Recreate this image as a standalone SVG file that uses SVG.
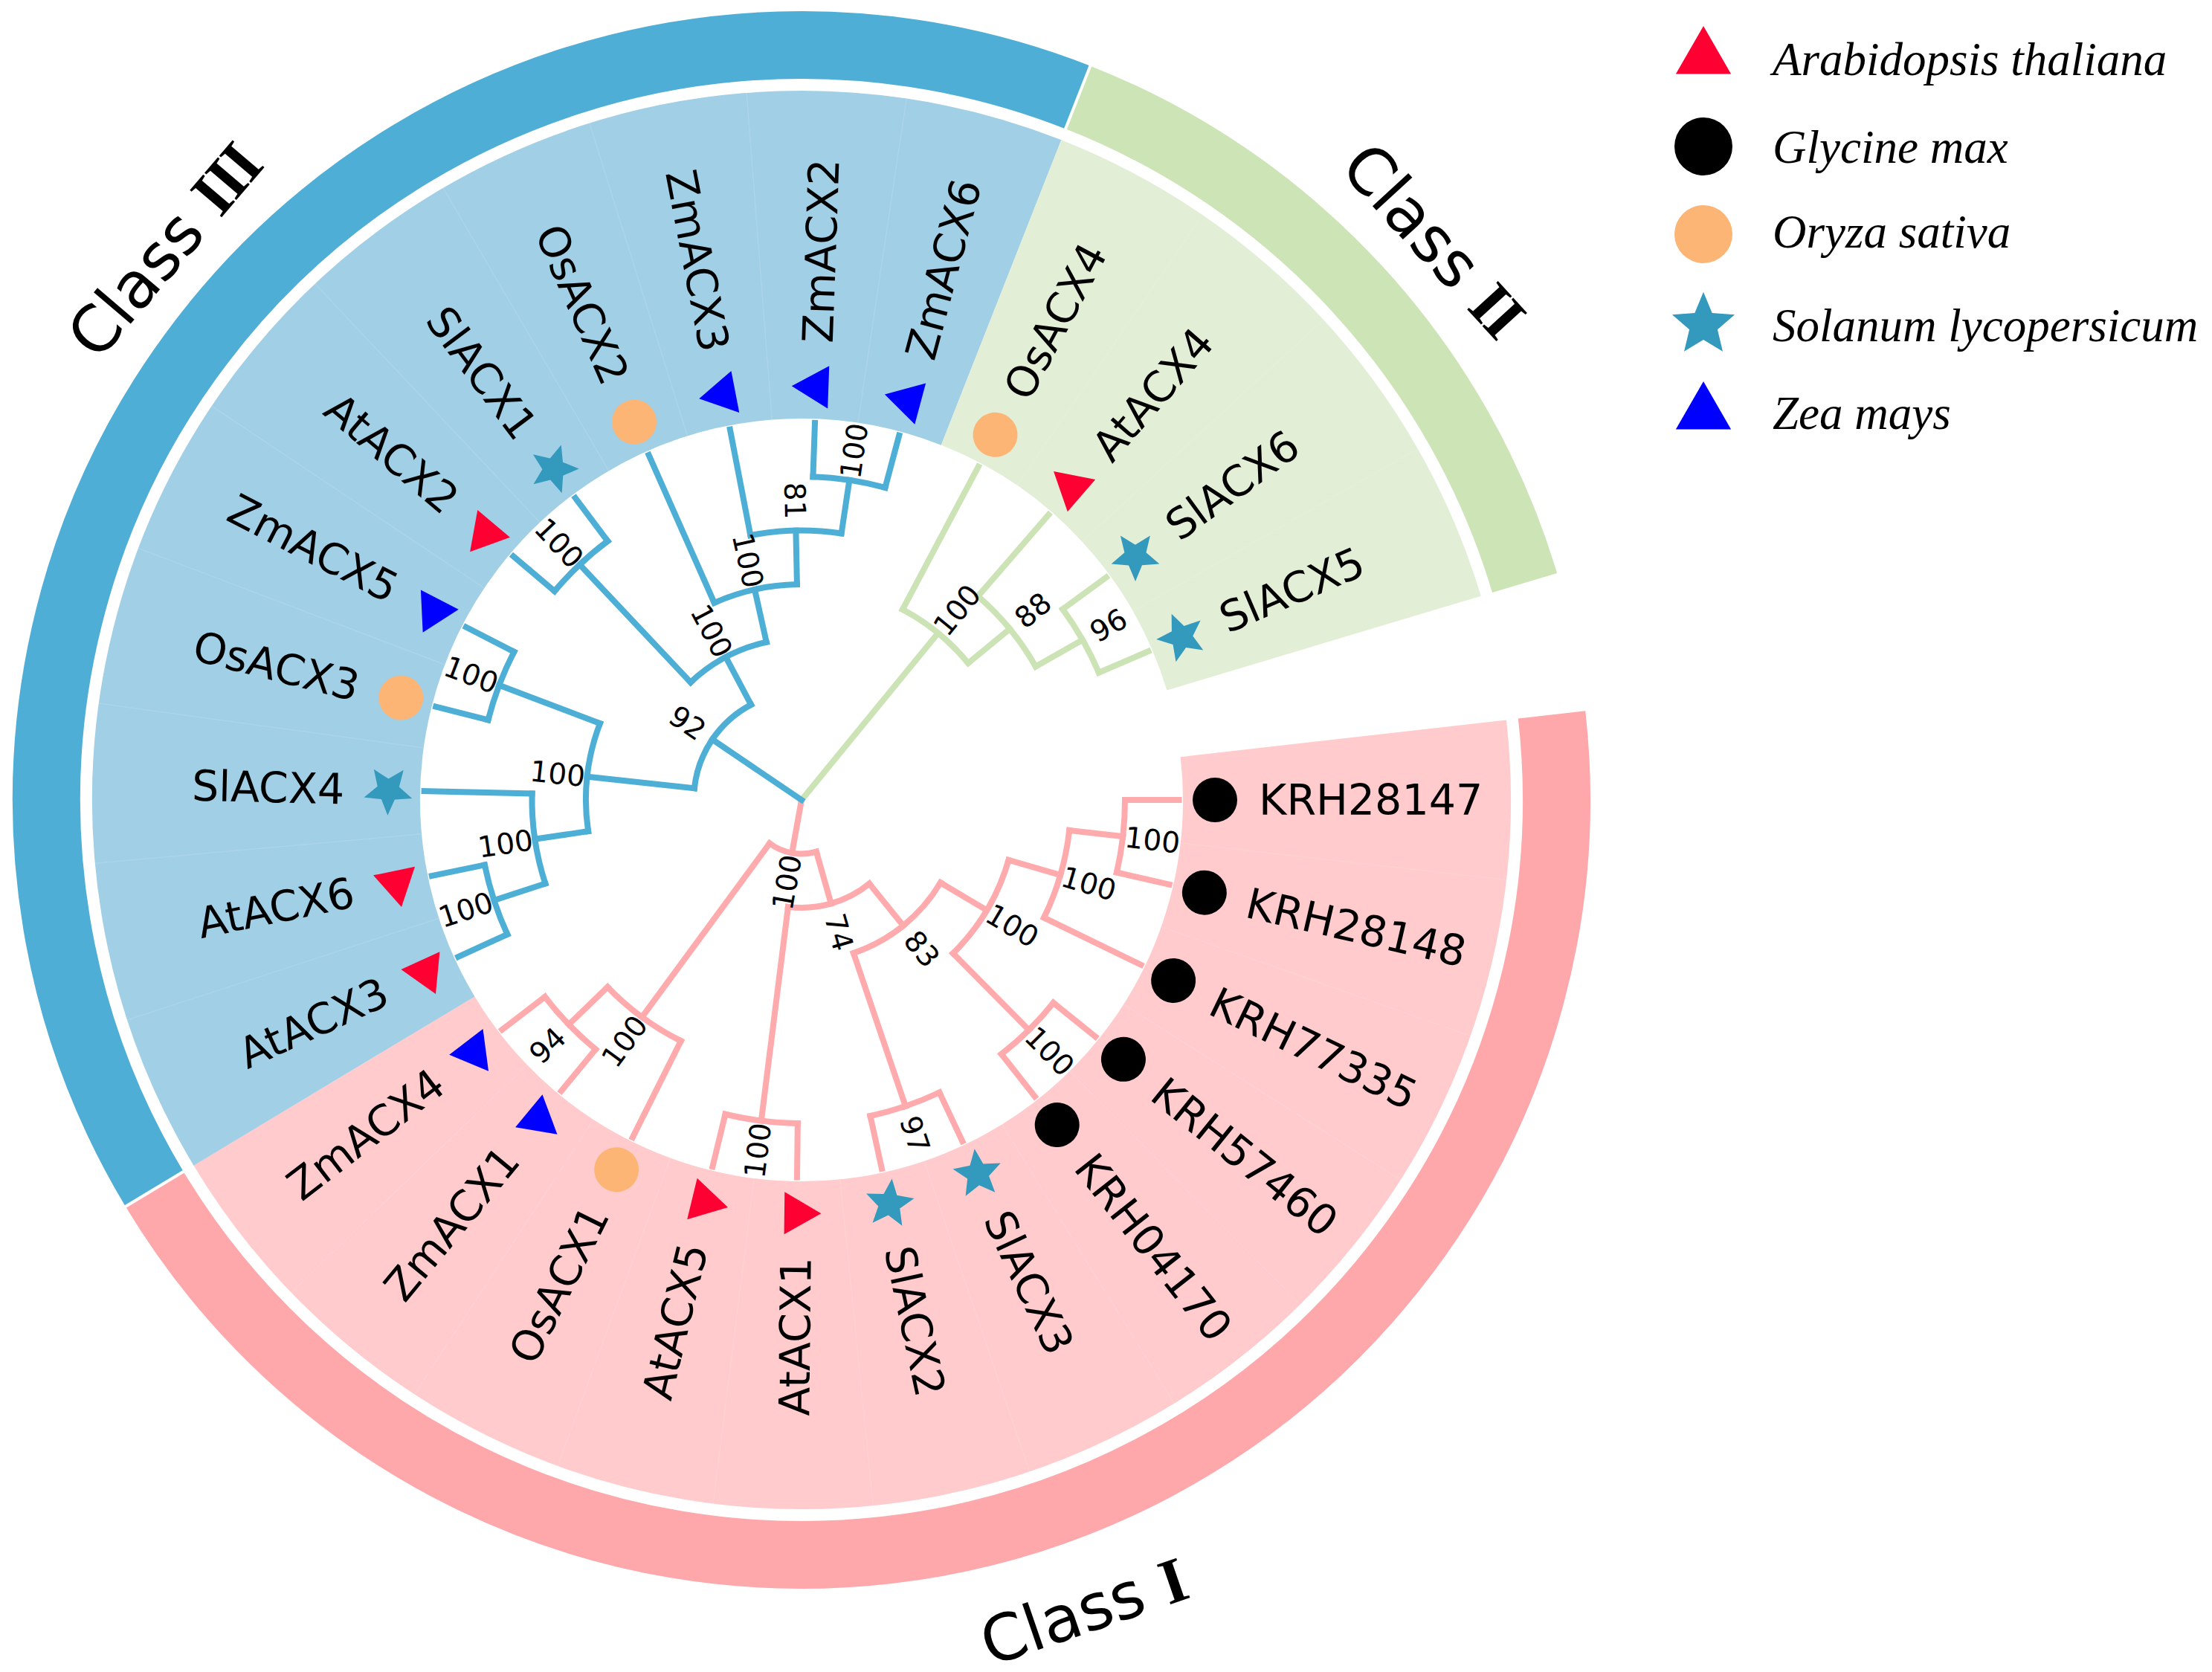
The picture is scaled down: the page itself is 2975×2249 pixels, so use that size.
<svg xmlns="http://www.w3.org/2000/svg" width="2975" height="2249" viewBox="0 0 2975 2249">
<style>
.band{fill:none;stroke-linecap:butt}
.e path,.e circle{fill:none;stroke-width:8;stroke-linecap:square}
.c1 path,.c1 circle{stroke:#FFAAAC}
.c2 path,.c2 circle{stroke:#CCE3B5}
.c3 path,.c3 circle{stroke:#4DAED6}
.lab{font-family:"DejaVu Sans","Liberation Sans",sans-serif;font-size:57px;fill:#000}
.bs{font-family:"DejaVu Sans","Liberation Sans",sans-serif;font-size:39px;fill:#000;text-anchor:middle}
.leg{font-family:"Liberation Serif","Times New Roman",serif;font-style:italic;font-size:63px;fill:#000}
.cls{font-family:"DejaVu Sans","Liberation Sans",sans-serif;font-size:86px;fill:#000}
.rn{font-family:"Liberation Serif","Times New Roman",serif;font-weight:bold;letter-spacing:-3px}
.seam{stroke:#fff;stroke-opacity:.13;stroke-width:1.5;fill:none}
.at{fill:#FF0033}.zm{fill:#0000FF}.gm{fill:#000}.os{fill:#FDB576}.sl{fill:#3399BD}
</style>
<defs>
<path id="tri" d="M0,-33 L28.58,16.5 L-28.58,16.5 Z"/>
<circle id="dot" cx="0" cy="0" r="30"/>
<path id="star" d="M0,-34 L8.99,-12.38 L32.34,-10.51 L14.55,4.73 L19.99,27.51 L0,15.3 L-19.99,27.51 L-14.55,4.73 L-32.34,-10.51 L-8.99,-12.38 Z"/>
</defs>

<g id="bands">
<circle class="band" cx="1078" cy="1076" r="733.5" stroke="#FFCBCC" stroke-width="441" stroke-dasharray="1990.12 9000" transform="rotate(-6.477 1078 1076)"/>
<circle class="band" cx="1078" cy="1076" r="733.5" stroke="#A0CFE6" stroke-width="441" stroke-dasharray="1824.21 9000" transform="rotate(148.977 1078 1076)"/>
<circle class="band" cx="1078" cy="1076" r="733.5" stroke="#E2EED6" stroke-width="441" stroke-dasharray="663.27 9000" transform="rotate(291.471 1078 1076)"/>
<circle class="band" cx="1078" cy="1076" r="1015.5" stroke="#FFA8AB" stroke-width="91" stroke-dasharray="2755.23 9000" transform="rotate(-6.477 1078 1076)"/>
<circle class="band" cx="1078" cy="1076" r="1015.5" stroke="#4FAED6" stroke-width="91" stroke-dasharray="2525.55 9000" transform="rotate(148.977 1078 1076)"/>
<circle class="band" cx="1078" cy="1076" r="1015.5" stroke="#CDE4B7" stroke-width="91" stroke-dasharray="918.27 9000" transform="rotate(291.471 1078 1076)"/>
<path d="M2040 1076H2146" stroke="#fff" stroke-width="4" transform="rotate(148.977 1078 1076)"/>
<path d="M2040 1076H2146" stroke="#fff" stroke-width="4" transform="rotate(291.471 1078 1076)"/>
<g class="seams">
<path class="seam" d="M1591 1076H2032" transform="rotate(6.477 1078 1076)"/>
<path class="seam" d="M1591 1076H2032" transform="rotate(19.431 1078 1076)"/>
<path class="seam" d="M1591 1076H2032" transform="rotate(32.385 1078 1076)"/>
<path class="seam" d="M1591 1076H2032" transform="rotate(45.339 1078 1076)"/>
<path class="seam" d="M1591 1076H2032" transform="rotate(58.293 1078 1076)"/>
<path class="seam" d="M1591 1076H2032" transform="rotate(71.247 1078 1076)"/>
<path class="seam" d="M1591 1076H2032" transform="rotate(84.201 1078 1076)"/>
<path class="seam" d="M1591 1076H2032" transform="rotate(97.155 1078 1076)"/>
<path class="seam" d="M1591 1076H2032" transform="rotate(110.109 1078 1076)"/>
<path class="seam" d="M1591 1076H2032" transform="rotate(123.063 1078 1076)"/>
<path class="seam" d="M1591 1076H2032" transform="rotate(136.017 1078 1076)"/>
<path class="seam" d="M1591 1076H2032" transform="rotate(161.925 1078 1076)"/>
<path class="seam" d="M1591 1076H2032" transform="rotate(174.879 1078 1076)"/>
<path class="seam" d="M1591 1076H2032" transform="rotate(187.833 1078 1076)"/>
<path class="seam" d="M1591 1076H2032" transform="rotate(200.787 1078 1076)"/>
<path class="seam" d="M1591 1076H2032" transform="rotate(213.741 1078 1076)"/>
<path class="seam" d="M1591 1076H2032" transform="rotate(226.695 1078 1076)"/>
<path class="seam" d="M1591 1076H2032" transform="rotate(239.649 1078 1076)"/>
<path class="seam" d="M1591 1076H2032" transform="rotate(252.603 1078 1076)"/>
<path class="seam" d="M1591 1076H2032" transform="rotate(265.557 1078 1076)"/>
<path class="seam" d="M1591 1076H2032" transform="rotate(278.511 1078 1076)"/>
<path class="seam" d="M1591 1076H2032" transform="rotate(304.419 1078 1076)"/>
<path class="seam" d="M1591 1076H2032" transform="rotate(317.373 1078 1076)"/>
<path class="seam" d="M1591 1076H2032" transform="rotate(330.327 1078 1076)"/>
</g>
</g>

<g id="connectors" class="e">
<g class="c1">
<path d="M1078 1076H1150.5" transform="rotate(100.19 1078 1076)"/>
<path d="M1150.5 1076H1440.5" transform="rotate(126.3 1078 1076)"/>
<path d="M1440.5 1076H1513" transform="rotate(136.02 1078 1076)"/>
<path d="M1513 1076H1585.5" transform="rotate(142.494 1078 1076)"/>
<path d="M1513 1076H1585.5" transform="rotate(129.54 1078 1076)"/>
<path d="M1440.5 1076H1585.5" transform="rotate(116.586 1078 1076)"/>
<path d="M1150.5 1076H1223" transform="rotate(74.081 1078 1076)"/>
<path d="M1223 1076H1513" transform="rotate(97.155 1078 1076)"/>
<path d="M1513 1076H1585.5" transform="rotate(90.678 1078 1076)"/>
<path d="M1513 1076H1585.5" transform="rotate(103.632 1078 1076)"/>
<path d="M1223 1076H1295.5" transform="rotate(51.006 1078 1076)"/>
<path d="M1295.5 1076H1513" transform="rotate(71.247 1078 1076)"/>
<path d="M1513 1076H1585.5" transform="rotate(64.77 1078 1076)"/>
<path d="M1513 1076H1585.5" transform="rotate(77.724 1078 1076)"/>
<path d="M1295.5 1076H1368" transform="rotate(30.766 1078 1076)"/>
<path d="M1368 1076H1513" transform="rotate(45.339 1078 1076)"/>
<path d="M1513 1076H1585.5" transform="rotate(38.862 1078 1076)"/>
<path d="M1513 1076H1585.5" transform="rotate(51.816 1078 1076)"/>
<path d="M1368 1076H1440.5" transform="rotate(16.193 1078 1076)"/>
<path d="M1440.5 1076H1513" transform="rotate(6.477 1078 1076)"/>
<path d="M1513 1076H1585.5"/>
<path d="M1513 1076H1585.5" transform="rotate(12.954 1078 1076)"/>
<path d="M1440.5 1076H1585.5" transform="rotate(25.908 1078 1076)"/>
<circle cx="1078" cy="1076" r="72.5" stroke-dasharray="66.08 9999" transform="rotate(74.081 1078 1076)"/>
<circle cx="1078" cy="1076" r="362.5" stroke-dasharray="122.96 9999" transform="rotate(116.586 1078 1076)"/>
<circle cx="1078" cy="1076" r="435" stroke-dasharray="98.35 9999" transform="rotate(129.54 1078 1076)"/>
<circle cx="1078" cy="1076" r="145" stroke-dasharray="116.79 9999" transform="rotate(51.006 1078 1076)"/>
<circle cx="1078" cy="1076" r="435" stroke-dasharray="98.35 9999" transform="rotate(90.678 1078 1076)"/>
<circle cx="1078" cy="1076" r="217.5" stroke-dasharray="153.67 9999" transform="rotate(30.766 1078 1076)"/>
<circle cx="1078" cy="1076" r="435" stroke-dasharray="98.35 9999" transform="rotate(64.77 1078 1076)"/>
<circle cx="1078" cy="1076" r="290" stroke-dasharray="147.52 9999" transform="rotate(16.193 1078 1076)"/>
<circle cx="1078" cy="1076" r="435" stroke-dasharray="98.35 9999" transform="rotate(38.862 1078 1076)"/>
<circle cx="1078" cy="1076" r="362.5" stroke-dasharray="122.94 9999" transform="rotate(6.477 1078 1076)"/>
<circle cx="1078" cy="1076" r="435" stroke-dasharray="98.35 9999"/>
</g>
<g class="c2">
<path d="M1078 1076H1368" transform="rotate(309.28 1078 1076)"/>
<path d="M1368 1076H1585.5" transform="rotate(297.942 1078 1076)"/>
<path d="M1368 1076H1440.5" transform="rotate(320.61 1078 1076)"/>
<path d="M1440.5 1076H1585.5" transform="rotate(310.896 1078 1076)"/>
<path d="M1440.5 1076H1513" transform="rotate(330.33 1078 1076)"/>
<path d="M1513 1076H1585.5" transform="rotate(323.85 1078 1076)"/>
<path d="M1513 1076H1585.5" transform="rotate(336.804 1078 1076)"/>
<circle cx="1078" cy="1076" r="290" stroke-dasharray="114.73 9999" transform="rotate(297.942 1078 1076)"/>
<circle cx="1078" cy="1076" r="362.5" stroke-dasharray="122.96 9999" transform="rotate(310.896 1078 1076)"/>
<circle cx="1078" cy="1076" r="435" stroke-dasharray="98.35 9999" transform="rotate(323.85 1078 1076)"/>
</g>
<g class="c3">
<path d="M1078 1076H1223" transform="rotate(214.14 1078 1076)"/>
<path d="M1223 1076H1368" transform="rotate(186.21 1078 1076)"/>
<path d="M1368 1076H1513" transform="rotate(200.79 1078 1076)"/>
<path d="M1513 1076H1585.5" transform="rotate(194.31 1078 1076)"/>
<path d="M1513 1076H1585.5" transform="rotate(207.264 1078 1076)"/>
<path d="M1368 1076H1440.5" transform="rotate(171.64 1078 1076)"/>
<path d="M1440.5 1076H1585.5" transform="rotate(181.356 1078 1076)"/>
<path d="M1440.5 1076H1513" transform="rotate(161.925 1078 1076)"/>
<path d="M1513 1076H1585.5" transform="rotate(155.448 1078 1076)"/>
<path d="M1513 1076H1585.5" transform="rotate(168.402 1078 1076)"/>
<path d="M1223 1076H1295.5" transform="rotate(242.08 1078 1076)"/>
<path d="M1295.5 1076H1513" transform="rotate(226.695 1078 1076)"/>
<path d="M1513 1076H1585.5" transform="rotate(220.218 1078 1076)"/>
<path d="M1513 1076H1585.5" transform="rotate(233.172 1078 1076)"/>
<path d="M1295.5 1076H1368" transform="rotate(257.46 1078 1076)"/>
<path d="M1368 1076H1585.5" transform="rotate(246.126 1078 1076)"/>
<path d="M1368 1076H1440.5" transform="rotate(268.8 1078 1076)"/>
<path d="M1440.5 1076H1585.5" transform="rotate(259.08 1078 1076)"/>
<path d="M1440.5 1076H1513" transform="rotate(278.511 1078 1076)"/>
<path d="M1513 1076H1585.5" transform="rotate(272.034 1078 1076)"/>
<path d="M1513 1076H1585.5" transform="rotate(284.988 1078 1076)"/>
<circle cx="1078" cy="1076" r="145" stroke-dasharray="141.39 9999" transform="rotate(186.21 1078 1076)"/>
<circle cx="1078" cy="1076" r="290" stroke-dasharray="147.54 9999" transform="rotate(171.64 1078 1076)"/>
<circle cx="1078" cy="1076" r="435" stroke-dasharray="98.35 9999" transform="rotate(194.31 1078 1076)"/>
<circle cx="1078" cy="1076" r="362.5" stroke-dasharray="122.94 9999" transform="rotate(161.925 1078 1076)"/>
<circle cx="1078" cy="1076" r="435" stroke-dasharray="98.35 9999" transform="rotate(155.448 1078 1076)"/>
<circle cx="1078" cy="1076" r="217.5" stroke-dasharray="116.79 9999" transform="rotate(226.695 1078 1076)"/>
<circle cx="1078" cy="1076" r="435" stroke-dasharray="98.35 9999" transform="rotate(220.218 1078 1076)"/>
<circle cx="1078" cy="1076" r="290" stroke-dasharray="114.76 9999" transform="rotate(246.126 1078 1076)"/>
<circle cx="1078" cy="1076" r="362.5" stroke-dasharray="122.94 9999" transform="rotate(259.08 1078 1076)"/>
<circle cx="1078" cy="1076" r="435" stroke-dasharray="98.35 9999" transform="rotate(272.034 1078 1076)"/>
</g>
</g>

<g id="bootstrap">
<text id="bs-P1" class="bs" x="1190.5" y="1090" transform="rotate(100.19 1078 1076) rotate(180 1190.5 1076)">100</text>
<text id="bs-O" class="bs" x="1480.5" y="1090" transform="rotate(126.3 1078 1076) rotate(180 1480.5 1076)">100</text>
<text id="bs-N94" class="bs" x="1553" y="1090" transform="rotate(136.02 1078 1076) rotate(180 1553 1076)">94</text>
<text id="bs-N74" class="bs" x="1263" y="1090" transform="rotate(74.081 1078 1076)">74</text>
<text id="bs-A15" class="bs" x="1553" y="1090" transform="rotate(97.155 1078 1076) rotate(180 1553 1076)">100</text>
<text id="bs-N83" class="bs" x="1335.5" y="1090" transform="rotate(51.006 1078 1076)">83</text>
<text id="bs-N97" class="bs" x="1553" y="1090" transform="rotate(71.247 1078 1076)">97</text>
<text id="bs-K" class="bs" x="1408" y="1090" transform="rotate(30.766 1078 1076)">100</text>
<text id="bs-K1" class="bs" x="1553" y="1090" transform="rotate(45.339 1078 1076)">100</text>
<text id="bs-K2" class="bs" x="1480.5" y="1090" transform="rotate(16.193 1078 1076)">100</text>
<text id="bs-K3" class="bs" x="1553" y="1090" transform="rotate(6.477 1078 1076)">100</text>
<text id="bs-C2" class="bs" x="1408" y="1090" transform="rotate(309.28 1078 1076)">100</text>
<text id="bs-N88" class="bs" x="1480.5" y="1090" transform="rotate(320.61 1078 1076)">88</text>
<text id="bs-N96" class="bs" x="1553" y="1090" transform="rotate(330.33 1078 1076)">96</text>
<text id="bs-N92" class="bs" x="1263" y="1090" transform="rotate(214.14 1078 1076) rotate(180 1263 1076)">92</text>
<text id="bs-Z" class="bs" x="1408" y="1090" transform="rotate(186.21 1078 1076) rotate(180 1408 1076)">100</text>
<text id="bs-W" class="bs" x="1553" y="1090" transform="rotate(200.79 1078 1076) rotate(180 1553 1076)">100</text>
<text id="bs-X" class="bs" x="1480.5" y="1090" transform="rotate(171.64 1078 1076) rotate(180 1480.5 1076)">100</text>
<text id="bs-Y" class="bs" x="1553" y="1090" transform="rotate(161.925 1078 1076) rotate(180 1553 1076)">100</text>
<text id="bs-Q" class="bs" x="1335.5" y="1090" transform="rotate(242.08 1078 1076) rotate(180 1335.5 1076)">100</text>
<text id="bs-V" class="bs" x="1553" y="1090" transform="rotate(226.695 1078 1076) rotate(180 1553 1076)">100</text>
<text id="bs-R" class="bs" x="1408" y="1090" transform="rotate(257.46 1078 1076) rotate(180 1408 1076)">100</text>
<text id="bs-S" class="bs" x="1480.5" y="1090" transform="rotate(268.8 1078 1076) rotate(180 1480.5 1076)">81</text>
<text id="bs-T" class="bs" x="1553" y="1090" transform="rotate(278.511 1078 1076)">100</text>
</g>

<g id="leaves">
<g id="leaf-KRH28147"><use href="#dot" class="gm" x="1634" y="1076"/><text class="lab" x="1693" y="1096">KRH28147</text></g>
<g id="leaf-KRH28148" transform="rotate(12.954 1078 1076)"><use href="#dot" class="gm" x="1634" y="1076"/><text class="lab" x="1693" y="1096">KRH28148</text></g>
<g id="leaf-KRH77335" transform="rotate(25.908 1078 1076)"><use href="#dot" class="gm" x="1634" y="1076"/><text class="lab" x="1693" y="1096">KRH77335</text></g>
<g id="leaf-KRH57460" transform="rotate(38.862 1078 1076)"><use href="#dot" class="gm" x="1634" y="1076"/><text class="lab" x="1693" y="1096">KRH57460</text></g>
<g id="leaf-KRH04170" transform="rotate(51.816 1078 1076)"><use href="#dot" class="gm" x="1634" y="1076"/><text class="lab" x="1693" y="1096">KRH04170</text></g>
<g id="leaf-SlACX3" transform="rotate(64.77 1078 1076)"><use href="#star" class="sl" x="1634" y="1076"/><text class="lab" x="1693" y="1096">SlACX3</text></g>
<g id="leaf-SlACX2" transform="rotate(77.724 1078 1076)"><use href="#star" class="sl" x="1634" y="1076"/><text class="lab" x="1693" y="1096">SlACX2</text></g>
<g id="leaf-AtACX1" transform="rotate(90.678 1078 1076)"><use href="#tri" class="at" x="1634" y="1076"/><text class="lab" x="1693" y="1096" text-anchor="end" transform="rotate(180 1693 1076)">AtACX1</text></g>
<g id="leaf-AtACX5" transform="rotate(103.632 1078 1076)"><use href="#tri" class="at" x="1634" y="1076"/><text class="lab" x="1693" y="1096" text-anchor="end" transform="rotate(180 1693 1076)">AtACX5</text></g>
<g id="leaf-OsACX1" transform="rotate(116.586 1078 1076)"><use href="#dot" class="os" x="1634" y="1076"/><text class="lab" x="1693" y="1096" text-anchor="end" transform="rotate(180 1693 1076)">OsACX1</text></g>
<g id="leaf-ZmACX1" transform="rotate(129.54 1078 1076)"><use href="#tri" class="zm" x="1634" y="1076"/><text class="lab" x="1693" y="1096" text-anchor="end" transform="rotate(180 1693 1076)">ZmACX1</text></g>
<g id="leaf-ZmACX4" transform="rotate(142.494 1078 1076)"><use href="#tri" class="zm" x="1634" y="1076"/><text class="lab" x="1693" y="1096" text-anchor="end" transform="rotate(180 1693 1076)">ZmACX4</text></g>
<g id="leaf-AtACX3" transform="rotate(155.448 1078 1076)"><use href="#tri" class="at" x="1634" y="1076"/><text class="lab" x="1693" y="1096" text-anchor="end" transform="rotate(180 1693 1076)">AtACX3</text></g>
<g id="leaf-AtACX6" transform="rotate(168.402 1078 1076)"><use href="#tri" class="at" x="1634" y="1076"/><text class="lab" x="1693" y="1096" text-anchor="end" transform="rotate(180 1693 1076)">AtACX6</text></g>
<g id="leaf-SlACX4" transform="rotate(181.356 1078 1076)"><use href="#star" class="sl" x="1634" y="1076"/><text class="lab" x="1693" y="1096" text-anchor="end" transform="rotate(180 1693 1076)">SlACX4</text></g>
<g id="leaf-OsACX3" transform="rotate(194.31 1078 1076)"><use href="#dot" class="os" x="1634" y="1076"/><text class="lab" x="1693" y="1096" text-anchor="end" transform="rotate(180 1693 1076)">OsACX3</text></g>
<g id="leaf-ZmACX5" transform="rotate(207.264 1078 1076)"><use href="#tri" class="zm" x="1634" y="1076"/><text class="lab" x="1693" y="1096" text-anchor="end" transform="rotate(180 1693 1076)">ZmACX5</text></g>
<g id="leaf-AtACX2" transform="rotate(220.218 1078 1076)"><use href="#tri" class="at" x="1634" y="1076"/><text class="lab" x="1693" y="1096" text-anchor="end" transform="rotate(180 1693 1076)">AtACX2</text></g>
<g id="leaf-SlACX1" transform="rotate(233.172 1078 1076)"><use href="#star" class="sl" x="1634" y="1076"/><text class="lab" x="1693" y="1096" text-anchor="end" transform="rotate(180 1693 1076)">SlACX1</text></g>
<g id="leaf-OsACX2" transform="rotate(246.126 1078 1076)"><use href="#dot" class="os" x="1634" y="1076"/><text class="lab" x="1693" y="1096" text-anchor="end" transform="rotate(180 1693 1076)">OsACX2</text></g>
<g id="leaf-ZmACX3" transform="rotate(259.08 1078 1076)"><use href="#tri" class="zm" x="1634" y="1076"/><text class="lab" x="1693" y="1096" text-anchor="end" transform="rotate(180 1693 1076)">ZmACX3</text></g>
<g id="leaf-ZmACX2" transform="rotate(272.034 1078 1076)"><use href="#tri" class="zm" x="1634" y="1076"/><text class="lab" x="1693" y="1096">ZmACX2</text></g>
<g id="leaf-ZmACX6" transform="rotate(284.988 1078 1076)"><use href="#tri" class="zm" x="1634" y="1076"/><text class="lab" x="1693" y="1096">ZmACX6</text></g>
<g id="leaf-OsACX4" transform="rotate(297.942 1078 1076)"><use href="#dot" class="os" x="1634" y="1076"/><text class="lab" x="1693" y="1096">OsACX4</text></g>
<g id="leaf-AtACX4" transform="rotate(310.896 1078 1076)"><use href="#tri" class="at" x="1634" y="1076"/><text class="lab" x="1693" y="1096">AtACX4</text></g>
<g id="leaf-SlACX6" transform="rotate(323.85 1078 1076)"><use href="#star" class="sl" x="1634" y="1076"/><text class="lab" x="1693" y="1096">SlACX6</text></g>
<g id="leaf-SlACX5" transform="rotate(336.804 1078 1076)"><use href="#star" class="sl" x="1634" y="1076"/><text class="lab" x="1693" y="1096">SlACX5</text></g>
</g>

<g id="class-labels">
<text id="class-III" class="cls" x="0" y="31" text-anchor="middle" transform="translate(220 336) rotate(-49.5)">Class <tspan class="rn">III</tspan></text>
<text id="class-II" class="cls" x="0" y="31" text-anchor="middle" transform="translate(1929 322) rotate(47.5)">Class <tspan class="rn">II</tspan></text>
<text id="class-I" class="cls" x="0" y="31" text-anchor="middle" transform="translate(1456 2166) rotate(-19)">Class <tspan class="rn">I</tspan></text>
</g>

<g id="legend">
<g id="legend-at"><use href="#tri" class="at" transform="translate(2291 78) scale(1.3)"/><text class="leg" x="2384" y="101">Arabidopsis thaliana</text></g>
<g id="legend-gm"><circle class="gm" cx="2291" cy="197" r="39"/><text class="leg" x="2384" y="219">Glycine max</text></g>
<g id="legend-os"><circle class="os" cx="2291" cy="315" r="39"/><text class="leg" x="2384" y="333">Oryza sativa</text></g>
<g id="legend-sl"><use href="#star" class="sl" transform="translate(2291 437) scale(1.3)"/><text class="leg" x="2384" y="459">Solanum lycopersicum</text></g>
<g id="legend-zm"><use href="#tri" class="zm" transform="translate(2291 556) scale(1.3)"/><text class="leg" x="2384" y="577">Zea mays</text></g>
</g>
</svg>
